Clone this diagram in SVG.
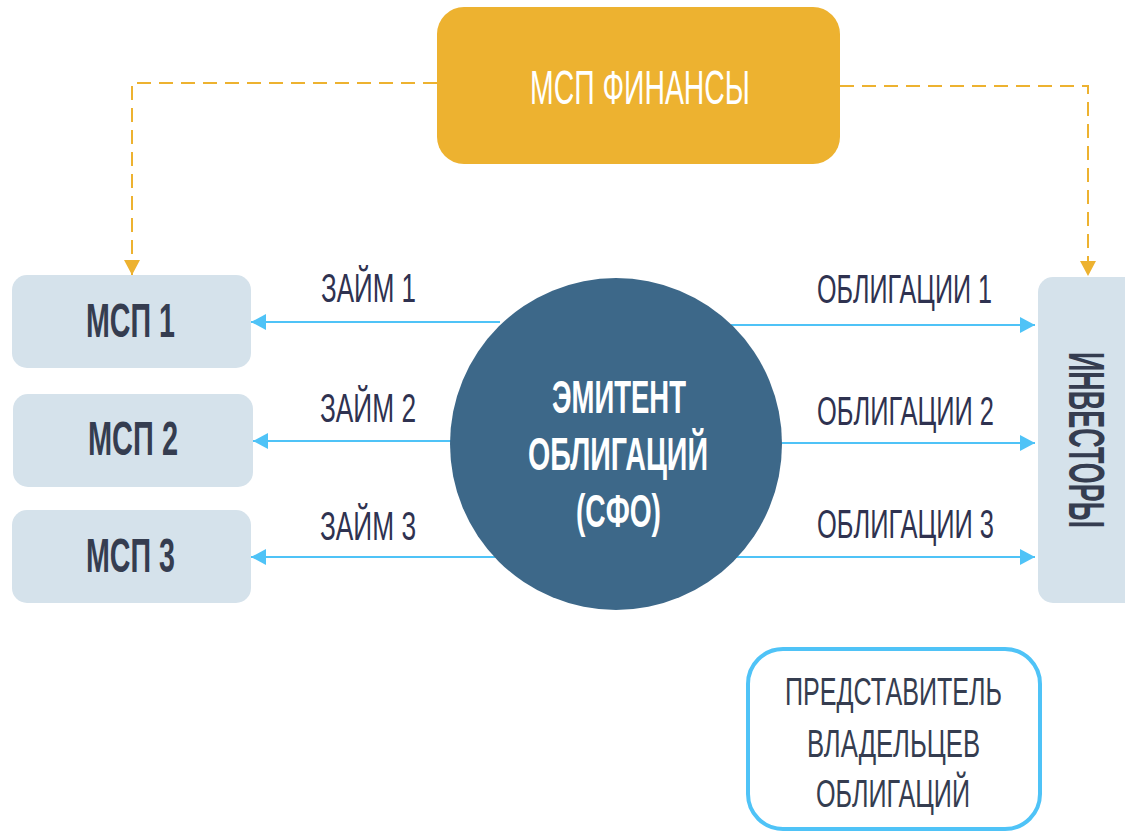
<svg xmlns="http://www.w3.org/2000/svg" width="1125" height="833" viewBox="0 0 1125 833">
<style>
.t{font-family:"Liberation Sans","DejaVu Sans",sans-serif;}
.lbl{font-size:40px;fill:#2F3250;}
.bold{font-weight:bold;}
.box{fill:#D5E2EB;}
.blue{stroke:#4FC3F7;stroke-width:2;fill:none;}
.dash{stroke:#EDB230;stroke-width:2;fill:none;stroke-dasharray:14 8;}
</style>
<defs>
<marker id="ab" markerUnits="userSpaceOnUse" markerWidth="16" markerHeight="16" refX="15" refY="8" orient="auto">
<path d="M0,0 L15,8 L0,16 z" fill="#4FC3F7"/>
</marker>
<marker id="ag" markerUnits="userSpaceOnUse" markerWidth="16" markerHeight="17" refX="15" refY="8" orient="auto">
<path d="M0,0 L15,8 L0,16 z" fill="#EDB230"/>
</marker>
</defs>
<g id="connectors">
<path class="dash" d="M437,83 H132 V275" marker-end="url(#ag)"/>
<path class="dash" d="M840,86 H1088 V276" marker-end="url(#ag)"/>
<line class="blue" x1="500" y1="322" x2="251" y2="322" marker-end="url(#ab)"/>
<line class="blue" x1="452" y1="441" x2="253" y2="441" marker-end="url(#ab)"/>
<line class="blue" x1="496" y1="557" x2="251" y2="557" marker-end="url(#ab)"/>
<line class="blue" x1="731" y1="325" x2="1035" y2="325" marker-end="url(#ab)"/>
<line class="blue" x1="780" y1="443" x2="1035" y2="443" marker-end="url(#ab)"/>
<line class="blue" x1="731" y1="557" x2="1035" y2="557" marker-end="url(#ab)"/>
</g>
<g id="labels" class="t lbl">
<text x="321" y="302" textLength="95" lengthAdjust="spacingAndGlyphs">ЗАЙМ 1</text>
<text x="320" y="422" textLength="96" lengthAdjust="spacingAndGlyphs">ЗАЙМ 2</text>
<text x="320" y="540" textLength="96" lengthAdjust="spacingAndGlyphs">ЗАЙМ 3</text>
<text x="817" y="303" textLength="175" lengthAdjust="spacingAndGlyphs">ОБЛИГАЦИИ 1</text>
<text x="817" y="425" textLength="177" lengthAdjust="spacingAndGlyphs">ОБЛИГАЦИИ 2</text>
<text x="817" y="538" textLength="177" lengthAdjust="spacingAndGlyphs">ОБЛИГАЦИИ 3</text>
</g>
<g id="msp-finance">
<rect x="437" y="7" width="403" height="157" rx="27" fill="#EDB230"/>
<text class="t" x="530" y="104" font-size="49" fill="#FFFFFF" textLength="220" lengthAdjust="spacingAndGlyphs">МСП ФИНАНСЫ</text>
</g>
<g id="msp1">
<rect class="box" x="12" y="275" width="239" height="93" rx="15"/>
<text class="t bold" x="86" y="337" font-size="49" fill="#353D50" textLength="89" lengthAdjust="spacingAndGlyphs">МСП 1</text>
</g>
<g id="msp2">
<rect class="box" x="13" y="394" width="240" height="93" rx="15"/>
<text class="t bold" x="88" y="455" font-size="49" fill="#353D50" textLength="90" lengthAdjust="spacingAndGlyphs">МСП 2</text>
</g>
<g id="msp3">
<rect class="box" x="12" y="510" width="239" height="93" rx="15"/>
<text class="t bold" x="86" y="572" font-size="49" fill="#353D50" textLength="89" lengthAdjust="spacingAndGlyphs">МСП 3</text>
</g>
<g id="issuer">
<circle cx="616" cy="444" r="166" fill="#3D6889"/>
<g class="t bold" font-size="46" fill="#FFFFFF">
<text x="552" y="413" textLength="134" lengthAdjust="spacingAndGlyphs">ЭМИТЕНТ</text>
<text x="528" y="470" textLength="180" lengthAdjust="spacingAndGlyphs">ОБЛИГАЦИЙ</text>
<text x="576" y="527" textLength="85" lengthAdjust="spacingAndGlyphs">(СФО)</text>
</g>
</g>
<g id="investors">
<rect class="box" x="1038" y="277" width="110" height="326" rx="15"/>
<text class="t bold" transform="translate(1069,352) rotate(90)" x="0" y="0" font-size="50" fill="#353D50" textLength="176" lengthAdjust="spacingAndGlyphs">ИНВЕСТОРЫ</text>
</g>
<g id="representative">
<rect x="748" y="649" width="292" height="180" rx="35" fill="#FFFFFF" stroke="#4FC3F7" stroke-width="4"/>
<g class="t" font-size="39" fill="#353D50">
<text x="785" y="705" textLength="217" lengthAdjust="spacingAndGlyphs">ПРЕДСТАВИТЕЛЬ</text>
<text x="807" y="757" textLength="173" lengthAdjust="spacingAndGlyphs">ВЛАДЕЛЬЦЕВ</text>
<text x="816" y="807" textLength="154" lengthAdjust="spacingAndGlyphs">ОБЛИГАЦИЙ</text>
</g>
</g>
</svg>
